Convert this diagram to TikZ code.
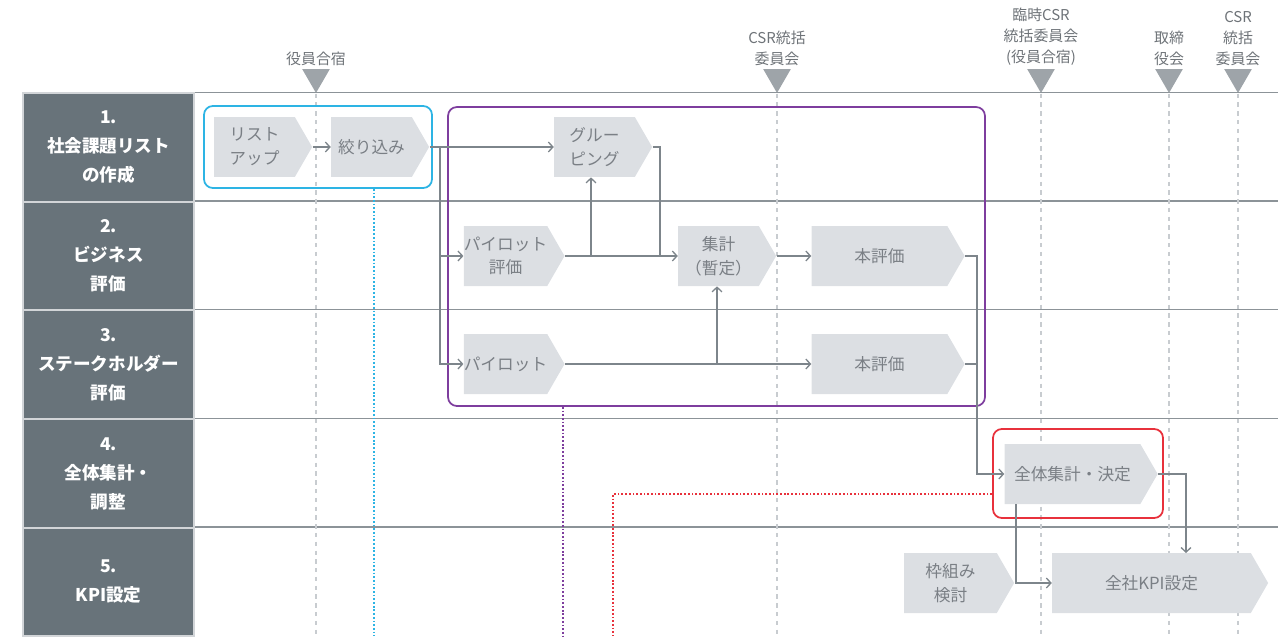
\documentclass[tikz,border=0pt]{standalone}
\usepackage{fontspec}
\setmainfont{Noto Sans CJK JP}
\usepackage{tikz}
\usetikzlibrary{shapes.symbols, shapes.geometric, arrows.meta, positioning}
\definecolor{lanegray}{HTML}{68737A}
\definecolor{lanesep}{HTML}{D2D5D8}
\definecolor{rulegray}{HTML}{8C9398}
\definecolor{milegray}{HTML}{C8CCD0}
\definecolor{trigray}{HTML}{9EA4A9}
\definecolor{boxfill}{HTML}{DCDFE3}
\definecolor{boxtext}{HTML}{7A7F85}
\definecolor{linkgray}{HTML}{7D858B}
\definecolor{tagtext}{HTML}{6E7378}
\definecolor{cyanline}{HTML}{2DB4E4}
\definecolor{purpleline}{HTML}{7E3E9E}
\definecolor{redline}{HTML}{E8313C}

\begin{document}
\begin{tikzpicture}[x=0.02cm, y=-0.02cm,
    lane/.style={fill=lanegray, draw=lanesep, line width=0.9pt, minimum width=3.42cm,
                 minimum height=2.17cm, align=center, text=white, inner sep=0pt,
                 font=\fontsize{10}{16.5}\selectfont\bfseries},
    task/.style={signal, signal to=east, signal pointer angle=120, fill=boxfill,
                 minimum width=1.96cm, minimum height=1.2cm, inner sep=0pt, align=center,
                 text=boxtext, font=\fontsize{9.5}{13.5}\selectfont},
    wide/.style={task, minimum width=3.06cm},
    tri/.style={regular polygon, regular polygon sides=3, shape border rotate=180,
                fill=trigray, minimum size=0.64cm, inner sep=0pt},
    tag/.style={align=center, text=tagtext, inner sep=0pt,
                font=\fontsize{8.5}{11.9}\selectfont},
    phasebox/.style={rounded corners=5pt, line width=1pt, inner sep=0pt},
    rule/.style={draw=rulegray, line width=0.85pt},
    milestone/.style={draw=milegray, line width=0.6pt, dash pattern=on 2.5pt off 2.5pt},
    link/.style={draw=linkgray, line width=0.75pt},
    dotline/.style={line width=1.1pt, dash pattern=on 1pt off 1.1pt},
    >={Straight Barb[length=2.6pt,width=5.6pt]}
]
\useasboundingbox (0,0) rectangle (1287,636);
\coordinate (bottom) at (0,636);
\coordinate (rightend) at (1278,0);

\node[lane] (lane1) at (108.5,147.5) {1.\\社会課題リスト\\の作成};
\node[lane] (lane2) at (108.5,256)   {2.\\ビジネス\\評価};
\node[lane] (lane3) at (108.5,364.5) {3.\\ステークホルダー\\評価};
\node[lane] (lane4) at (108.5,473.5) {4.\\全体集計・\\調整};
\node[lane] (lane5) at (108.5,582)   {5.\\KPI設定};

\node[tri] (meet1) at (316,77)  {};
\node[tri] (meet2) at (777,77)  {};
\node[tri] (meet3) at (1041,77) {};
\node[tri] (meet4) at (1169,77) {};
\node[tri] (meet5) at (1238,77) {};
\node[tag, above=1.5pt of meet1] (tag1) {役員合宿};
\node[tag, above=1.5pt of meet2] (tag2) {CSR統括\\委員会};
\node[tag, above=1.5pt of meet3] (tag3) {臨時CSR\\統括委員会\\(役員合宿)};
\node[tag, above=1.5pt of meet4] (tag4) {取締\\役会};
\node[tag, above=1.5pt of meet5] (tag5) {CSR\\統括\\委員会};

\draw[rule] (lane1.north east) -- (lane1.north east -| rightend);
\draw[rule] (lane2.north east) -- (lane2.north east -| rightend);
\draw[rule] (lane3.north east) -- (lane3.north east -| rightend);
\draw[rule] (lane4.north east) -- (lane4.north east -| rightend);
\draw[rule] (lane5.north east) -- (lane5.north east -| rightend);

\draw[milestone] (meet1.south) -- (meet1.south |- bottom);
\draw[milestone] (meet2.south) -- (meet2.south |- bottom);
\draw[milestone] (meet3.south) -- (meet3.south |- bottom);
\draw[milestone] (meet4.south) -- (meet4.south |- bottom);
\draw[milestone] (meet5.south) -- (meet5.south |- bottom);

\node[phasebox, draw=cyanline, minimum width=4.56cm, minimum height=1.64cm] (cyanbox) at (318,147) {};
\node[phasebox, draw=purpleline, minimum width=10.74cm, minimum height=5.98cm] (purplebox) at (716.5,256.5) {};
\node[phasebox, draw=redline, minimum width=3.4cm, minimum height=1.78cm] (redbox) at (1078,473.5) {};

\node[task] (listup)   at (254.5,147)  {リスト\\アップ};
\node[task] (narrow)   at (371.5,147)  {絞り込み};
\node[task] (group)    at (594.5,147)  {グルー\\ピング};
\node[task] (pilotbiz) at (505.5,256)  {パイロット\\評価};
\node[task] (tally)    at (718.5,256)  {集計\\（暫定）};
\node[wide] (evalbiz)  at (879.5,256)  {本評価};
\node[task] (pilotsh)  at (505.5,364)  {パイロット};
\node[wide] (evalsh)   at (879.5,364)  {本評価};
\node[wide] (total)    at (1072.5,474) {全体集計・決定};
\node[task, minimum width=2.2cm]  (frame) at (950.5,583)  {枠組み\\検討};
\node[task, minimum width=4.32cm] (kpi)   at (1151.5,583) {全社KPI設定};

\coordinate (split) at (440,147);
\coordinate (upgroup) at (591,256);
\coordinate (joinbiz) at (660,256);
\coordinate (uptally) at (717,364);
\coordinate (joineval) at (977,364);
\coordinate (kpitop) at (1186,553);
\coordinate (totalfoot) at (1016,504);

\draw[link,->] (listup.east) -- (narrow.west);
\draw[link,->] (narrow.east) -- (group.west);
\draw[link,->] (split) |- (pilotbiz.west);
\draw[link,->] (split) |- (pilotsh.west);
\draw[link,->] (pilotbiz.east) -- (tally.west);
\draw[link,->] (upgroup) -- (upgroup |- group.south);
\draw[link] (group.east) -| (joinbiz);
\draw[link,->] (pilotsh.east) -- (evalsh.west);
\draw[link,->] (uptally) -- (uptally |- tally.south);
\draw[link,->] (tally.east) -- (evalbiz.west);
\draw[link] (evalbiz.east) -| (joineval);
\draw[link,->] (evalsh.east) -| (joineval) |- (total.west);
\draw[link,->] (total.east) -| (kpitop);
\draw[link,->] (totalfoot) |- (kpi.west);

\coordinate (cyandrop) at (374,0);
\coordinate (purpledrop) at (563,0);
\coordinate (redturn) at (613,494);
\draw[dotline, draw=cyanline] (cyanbox.south -| cyandrop) -- (cyandrop |- bottom);
\draw[dotline, draw=purpleline] (purplebox.south -| purpledrop) -- (purpledrop |- bottom);
\draw[dotline, draw=redline] (redturn -| redbox.west) -- (redturn) -- (redturn |- bottom);
\end{tikzpicture}
\end{document}
